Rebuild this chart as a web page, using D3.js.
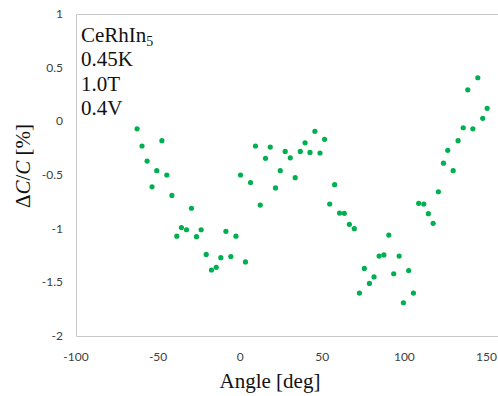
<!DOCTYPE html>
<html lang="en">
<head>
<meta charset="UTF-8">
<title>CeRhIn5</title>
<script src="https://d3js.org/d3.v7.min.js"></script>
<style>
  html, body { margin: 0; background: #fff; overflow: hidden; }
</style>
</head>
<body>
<svg id="svg"></svg>
<script>
const angle = [-62.8, -59.8, -56.7, -53.7, -50.8, -47.7, -44.7, -41.6, -38.6, -35.8,
  -32.7, -29.7, -26.6, -23.8, -20.7, -17.5, -14.6, -11.8, -8.7, -5.7,
  -2.6, 0.2, 3.2, 6.3, 9.3, 12.2, 15.4, 18.3, 21.5, 24.4,
  27.4, 30.5, 33.5, 36.6, 39.5, 42.5, 45.5, 48.6, 51.4, 54.5,
  57.5, 60.5, 63.4, 66.5, 69.5, 72.6, 75.6, 78.7, 81.5, 84.6,
  87.5, 90.5, 93.5, 96.8, 99.4, 102.6, 105.5, 108.7, 111.8, 114.6,
  117.5, 120.7, 123.8, 126.4, 129.7, 132.7, 135.8, 138.6, 141.7, 144.7,
  147.7, 150.4];
const dC = [-0.07, -0.23, -0.37, -0.61, -0.46, -0.18, -0.50, -0.69, -1.07, -0.99,
  -1.01, -0.81, -1.075, -1.01, -1.24, -1.385, -1.36, -1.27, -1.025, -1.26,
  -1.07, -0.50, -1.31, -0.57, -0.23, -0.78, -0.345, -0.24, -0.62, -0.46,
  -0.28, -0.34, -0.525, -0.28, -0.20, -0.29, -0.093, -0.295, -0.168, -0.77,
  -0.59, -0.855, -0.857, -0.96, -1.00, -1.60, -1.37, -1.51, -1.45, -1.255,
  -1.245, -1.06, -1.42, -1.255, -1.69, -1.39, -1.60, -0.764, -0.77, -0.86,
  -0.95, -0.656, -0.39, -0.27, -0.46, -0.18, -0.06, 0.294, -0.07, 0.406,
  0.028, 0.121];
const xTicks = [-100, -50, 0, 50, 100, 150];
const yTicks = [1, 0.5, 0, -0.5, -1, -1.5, -2];
const labels = ["0.45K", "1.0T", "0.4V"];

const width = 498, height = 396;
const svg = d3.select("#svg").attr("width", width).attr("height", height);
const plotLeft = 76, plotTop = 14, plotBottom = 336;

const x = d3.scaleLinear().domain([-100, 150]).range([plotLeft, 486.5]);
const y = d3.scaleLinear().domain([-2, 1]).range([plotBottom, plotTop]);

// plot frame (right side runs off the picture)
svg.append("path")
  .attr("d", `M${width},${plotTop + 0.5}H${plotLeft + 0.5}V${plotBottom + 0.5}H${width}`)
  .attr("fill", "none").attr("stroke", "#c8c8c8").attr("stroke-width", 1);

const tickFont = "Lato, 'Open Sans', sans-serif";
svg.append("g").selectAll("text").data(yTicks).join("text")
  .attr("x", 63).attr("y", d => y(d) + 4)
  .attr("text-anchor", "end")
  .attr("font-family", tickFont).attr("font-size", 12).attr("fill", "#404040")
  .text(d => d);

svg.append("g").selectAll("text").data(xTicks).join("text")
  .attr("x", d => x(d)).attr("y", 361)
  .attr("text-anchor", "middle")
  .attr("font-family", tickFont).attr("font-size", 12).attr("fill", "#404040")
  .text(d => d);

svg.append("g").selectAll("circle").data(angle).join("circle")
  .attr("cx", d => x(d))
  .attr("cy", (d, i) => y(dC[i]))
  .attr("r", 2.6)
  .attr("fill", "#00b050");

const serif = "'Liberation Serif', 'Times New Roman', serif";
const t0 = svg.append("text").attr("x", 81).attr("y", 42)
  .attr("font-family", serif).attr("font-size", 21).attr("fill", "#111");
t0.append("tspan").text("CeRhIn");
t0.append("tspan").attr("font-size", 14).attr("dy", 4).text("5");

svg.append("g").selectAll("text").data(labels).join("text")
  .attr("x", 81).attr("y", (d, i) => 66 + i * 24.5)
  .attr("font-family", serif).attr("font-size", 21).attr("fill", "#111")
  .text(d => d);

svg.append("text")
  .attr("x", 270).attr("y", 388)
  .attr("text-anchor", "middle")
  .attr("font-family", serif).attr("font-size", 21).attr("fill", "#111")
  .text("Angle [deg]");

const yt = svg.append("text")
  .attr("transform", "translate(30,166) rotate(-90)")
  .attr("text-anchor", "middle")
  .attr("font-family", serif).attr("font-size", 21).attr("fill", "#111");
yt.append("tspan").text("\u0394");
yt.append("tspan").attr("font-style", "italic").text("C");
yt.append("tspan").text("/");
yt.append("tspan").attr("font-style", "italic").text("C");
yt.append("tspan").text(" [%]");
</script>
</body>
</html>
